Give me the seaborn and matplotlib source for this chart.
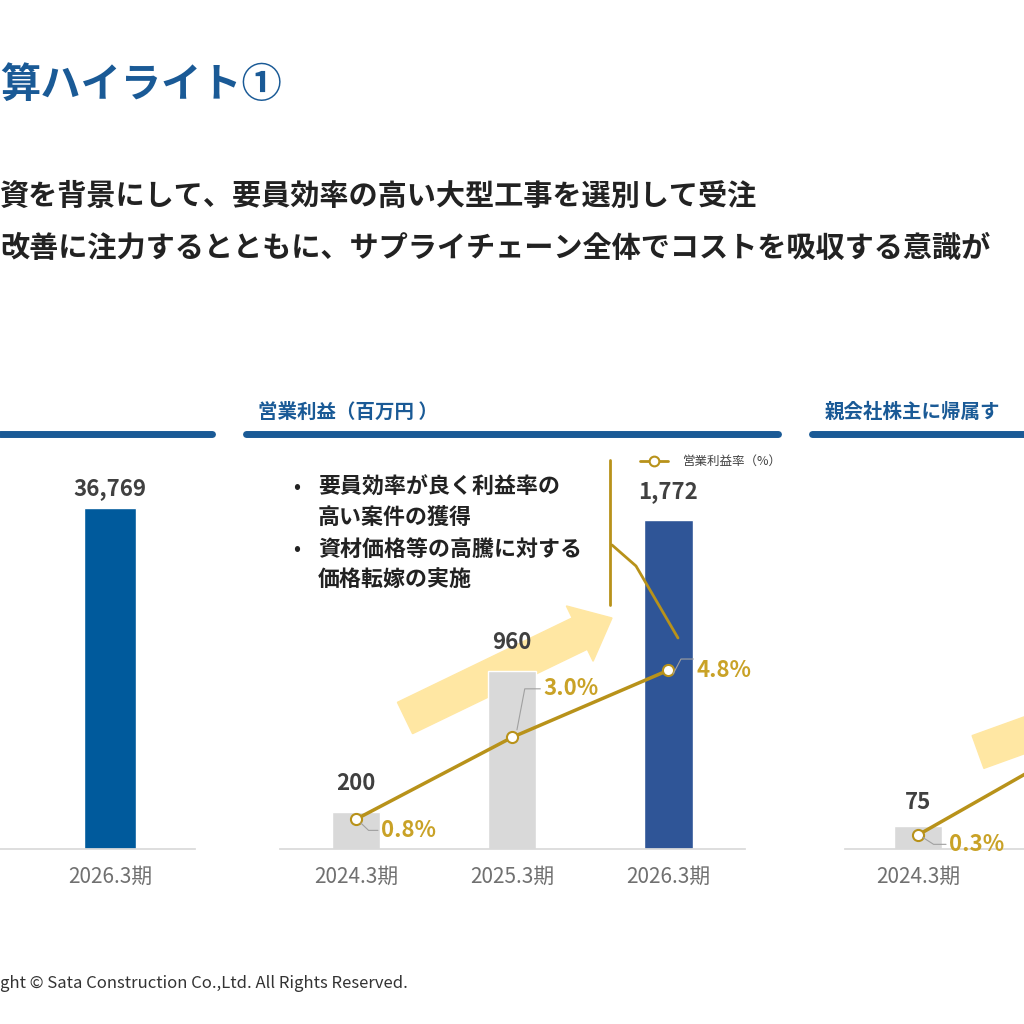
import matplotlib
matplotlib.use("Agg")
import matplotlib.pyplot as plt
import seaborn as sns
import pandas as pd
from matplotlib.patches import FancyArrow
from matplotlib.lines import Line2D

sns.set_theme(style="white")
plt.rcParams['font.family'] = ['Noto Sans CJK JP', 'DejaVu Sans']

# ---- data ----
left_cats = ["2026.3期"]
left_vals = [36769]
mid_cats = ["2024.3期", "2025.3期", "2026.3期"]
mid_vals = [200, 960, 1772]
mid_rate = [0.8, 3.0, 4.8]
right_cats = ["2024.3期", "2025.3期"]
right_vals = [75, 600]
right_rate = [0.3, 2.2]

BLUE = "#1a5a96"
GOLD = "#b8921a"
GOLDTXT = "#c9a227"
GRAY = "#d9d9d9"

W = H = 1024
fig = plt.figure(figsize=(10.24, 10.24), dpi=100)

def fx(px): return px / W
def fy(py): return 1 - py / H

def add_ax(x0, x1, y0, y1):
    return fig.add_axes([fx(x0), fy(y1), fx(x1) - fx(x0), (y1 - y0) / H])

def style(ax, xlim, ylim):
    ax.set_xlim(*xlim); ax.set_ylim(*ylim)
    for s in ["top", "right", "left"]:
        ax.spines[s].set_visible(False)
    ax.spines["bottom"].set_color("#d9d9d9")
    ax.set_yticks([]); ax.set_xlabel(""); ax.set_ylabel("")
    ax.tick_params(axis="x", length=0, labelsize=15, labelcolor="#707070", pad=12)
    ax.patch.set_alpha(0)

# ---- decorative arrows (behind) ----
for (x0, y0, x1, y1) in [(405, 718, 612, 618), (978, 752, 1150, 690)]:
    ar = FancyArrow(fx(x0), fy(y0), fx(x1 - x0), fy(y1) - fy(y0), width=0.034,
                    head_width=0.06, head_length=0.035, length_includes_head=True,
                    color="#ffe7a3", transform=fig.transFigure, zorder=-1)
    fig.add_artist(ar)

# ---- left panel ----
axL = add_ax(0, 195, 440, 849)
sns.barplot(x=left_cats, y=left_vals, color="#005a9c", ax=axL, width=0.33, saturation=1)
style(axL, (-0.705, 0.545), (0, 44100))
for i, v in enumerate(left_vals):
    axL.text(i, v + 900, f"{v:,}", ha="center", va="bottom", fontsize=16, color="#404040", fontweight="bold")

# ---- middle panel ----
axM = add_ax(280, 745, 440, 849)
dfm = pd.DataFrame({"cat": mid_cats, "val": mid_vals})
sns.barplot(data=dfm, x="cat", y="val", hue="cat", palette=[GRAY, GRAY, "#2f5597"],
            legend=False, ax=axM, width=0.31, saturation=1)
style(axM, (-0.487, 2.49), (0, 2202))
for i, v in enumerate(mid_vals):
    axM.text(i, v + 90, f"{v:,}", ha="center", va="bottom", fontsize=16, color="#404040", fontweight="bold")
axM2 = axM.twinx()
sns.lineplot(x=[0, 1, 2], y=mid_rate, ax=axM2, color=GOLD, lw=2.5, marker="o",
             markersize=8, markerfacecolor="white", markeredgecolor=GOLD, markeredgewidth=1.5)
axM2.set_ylim(0, 10.98); axM2.set_xlim(-0.487, 2.49)
axM2.axis("off")
offs = [(0.16, -0.3), (0.2, 1.3), (0.18, 0.0)]
for i, r in enumerate(mid_rate):
    dx, dy = offs[i]
    axM2.text(i + dx, r + dy, f"{r}%", ha="left", va="center", fontsize=16, color=GOLDTXT, fontweight="bold")
    axM2.plot([i + 0.03, i + 0.08, i + dx - 0.02], [r - 0.1 if dy <= 0 else r + 0.2, r + (dy if dy else 0.3), r + (dy if dy else 0.3)], color="#a0a0a0", lw=0.8)

# ---- right panel ----
axR = add_ax(845, 1024, 440, 849)
dfr = pd.DataFrame({"cat": right_cats, "val": right_vals})
sns.barplot(data=dfr, x="cat", y="val", color=GRAY, ax=axR, width=0.31, saturation=1)
style(axR, (-0.468, 0.68), (0, 1333))
axR.text(0, right_vals[0] + 40, f"{right_vals[0]:,}", ha="center", va="bottom", fontsize=16, color="#404040", fontweight="bold")
axR2 = axR.twinx()
sns.lineplot(x=[0, 1], y=right_rate, ax=axR2, color=GOLD, lw=2.5, marker="o",
             markersize=8, markerfacecolor="white", markeredgecolor=GOLD, markeredgewidth=1.5)
axR2.set_ylim(0, 8.76); axR2.set_xlim(-0.468, 0.68); axR2.axis("off")
axR2.text(0.2, right_rate[0] - 0.2, f"{right_rate[0]}%", ha="left", va="center", fontsize=16, color=GOLDTXT, fontweight="bold")
axR2.plot([0.03, 0.1, 0.18], [0.25, 0.1, 0.1], color="#a0a0a0", lw=0.8)

# ---- headers ----
fig.text(0, fy(85), "算ハイライト①", fontsize=29, color=BLUE, fontweight="bold", va="center")
fig.text(0, fy(196), "資を背景にして、要員効率の高い大型工事を選別して受注", fontsize=21, color="#222222", fontweight="bold", va="center")
fig.text(0, fy(248), "改善に注力するとともに、サプライチェーン全体でコストを吸収する意識が", fontsize=21, color="#222222", fontweight="bold", va="center")

fig.text(fx(258), fy(412), "営業利益（百万円 ）", fontsize=14, color=BLUE, fontweight="bold", va="center")
fig.text(fx(825), fy(412), "親会社株主に帰属す", fontsize=14, color=BLUE, fontweight="bold", va="center")
for (a, b) in [(0, 212), (246, 778), (812, 1030)]:
    fig.add_artist(Line2D([fx(a), fx(b)], [fy(434), fy(434)], color=BLUE, lw=5, transform=fig.transFigure))

# bullets
bl = [(487, "•", "要員効率が良く利益率の"), (517, "", "高い案件の獲得"),
      (549, "•", "資材価格等の高騰に対する"), (579, "", "価格転嫁の実施")]
for y, b, t in bl:
    if b:
        fig.text(fx(293), fy(y), b, fontsize=15, color="#222222", va="center")
    fig.text(fx(318), fy(y), t, fontsize=15.8, color="#222222", fontweight="bold", va="center")

# legend & callout line
fig.add_artist(Line2D([fx(640), fx(668)], [fy(461), fy(461)], color=GOLD, lw=2, transform=fig.transFigure))
fig.add_artist(Line2D([fx(654)], [fy(461)], color=GOLD, marker="o", markersize=7,
                      markerfacecolor="white", markeredgewidth=1.5, transform=fig.transFigure))
fig.text(fx(683), fy(461), "営業利益率（%）", fontsize=9, color="#404040", va="center")
fig.add_artist(Line2D([fx(610), fx(610)], [fy(460), fy(605)], color=GOLD, lw=2, transform=fig.transFigure))
fig.add_artist(Line2D([fx(612), fx(636), fx(678)], [fy(545), fy(566), fy(638)], color=GOLD, lw=2, transform=fig.transFigure))

fig.text(0, fy(984), "ght © Sata Construction Co.,Ltd. All Rights Reserved.", fontsize=12, color="#333333", va="center")

fig.savefig("out.png", dpi=100)
